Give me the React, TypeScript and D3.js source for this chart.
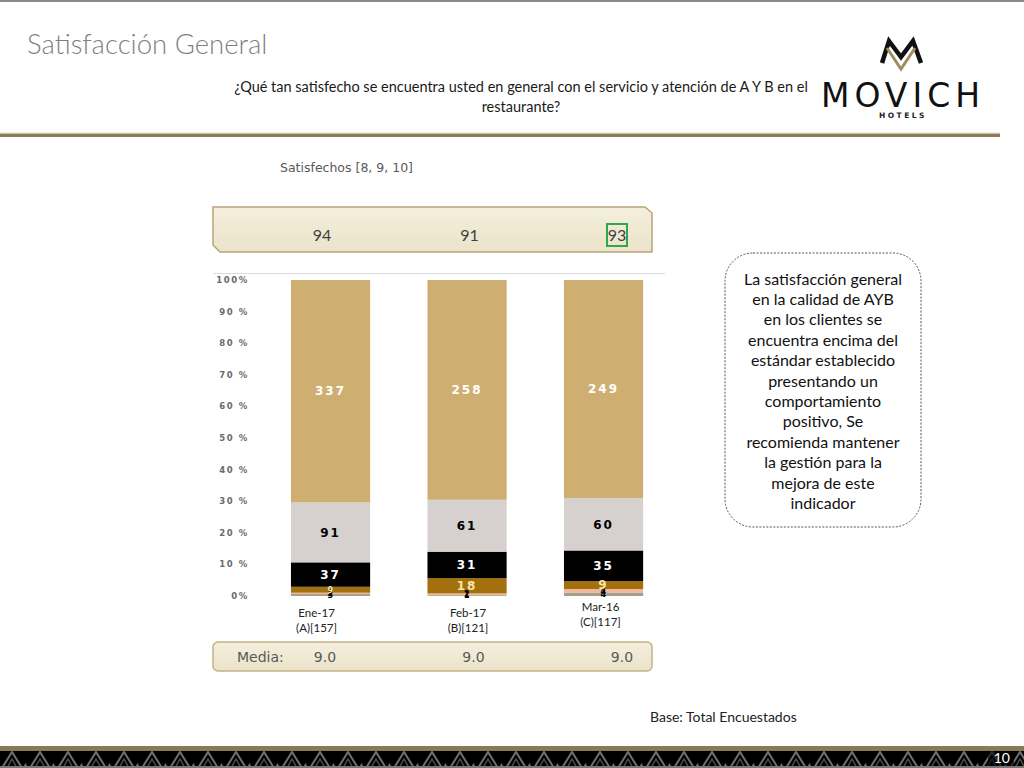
import React from "react";
import * as d3 from "d3";

// survey periods and base sizes
const categories = ["Ene-17", "Feb-17", "Mar-16"];
const bases = ["(A)[157]", "(B)[121]", "(C)[117]"];
const satisfied = [94, 91, 93];
const means = ["9.0", "9.0", "9.0"];

// stacked segments, bottom to top (counts)
const segGray = [3, 1, 4];
const segPeach = [2, 2, 4];
const segBrown = [9, 18, 9];
const segBlack = [37, 31, 35];
const segLight = [91, 61, 60];
const segTan = [337, 258, 249];

const yTicks = [0, 0.1, 0.2, 0.3, 0.4, 0.5, 0.6, 0.7, 0.8, 0.9, 1];

const comment = [
  "La satisfacción general",
  "en la calidad de AYB",
  "en los clientes se",
  "encuentra encima del",
  "estándar establecido",
  "presentando un",
  "comportamiento",
  "positivo, Se",
  "recomienda mantener",
  "la gestión para la",
  "mejora de este",
  "indicador",
];

const keys = ["gray", "peach", "brown", "black", "light", "tan"];
const fills: Record<string, string> = {
  gray: "#a99e8c",
  peach: "#efb99f",
  brown: "#a3700d",
  black: "#000000",
  light: "#d6d1cf",
  tan: "#cfae72",
};
const labelFill: Record<string, string> = {
  gray: "#000",
  peach: "#000",
  brown: "#f6e7a6",
  black: "#fff",
  light: "#000",
  tan: "#fff",
};

const rows = categories.map((c, i) => ({
  cat: c,
  gray: segGray[i],
  peach: segPeach[i],
  brown: segBrown[i],
  black: segBlack[i],
  light: segLight[i],
  tan: segTan[i],
}));

export default function App() {
  const x = d3.scaleBand().domain(categories).range([262.3, 671.8]).paddingInner(0.42).paddingOuter(0.21);
  const y = d3.scaleLinear().domain([0, 1]).range([596, 280]);
  const stack = d3.stack<any>().keys(keys).offset(d3.stackOffsetExpand);
  const series = stack(rows);
  const topPos = d3.scalePoint().domain(categories).range([322, 617]);
  const meanPos = d3.scalePoint().domain(categories).range([325, 622]);
  const tickFmt = (v: number) => (v === 0 || v === 1 ? `${Math.round(v * 100)}%` : `${Math.round(v * 100)} %`);
  const labelDx = [-14, 1, -3];
  const labelDy = [0, 0, -6];
  const pattern = d3.range(0, 1024, 28);

  return (
    <svg width={1024} height={768} style={{ position: "absolute", left: 0, top: 0, background: "#fff" }}>
      <defs>
        <linearGradient id="band" x1="0" y1="0" x2="0" y2="1">
          <stop offset="0" stopColor="#f4efdd" />
          <stop offset="1" stopColor="#ebe3ca" />
        </linearGradient>
      </defs>
      <rect x={0} y={0} width={1024} height={2} fill="#8a8a8a" />

      <text x={27} y={54} fontFamily="Lato" fontWeight={300} fontSize={27.5} fill="#7f7f7f">
        Satisfacción General
      </text>
      <g fontFamily="Lato" fontSize={14.5} fill="#1a1a1a" textAnchor="middle">
        <text x={521} y={92}>¿Qué tan satisfecho se encuentra usted en general con el servicio y atención de A Y B en el</text>
        <text x={521} y={112}>restaurante?</text>
      </g>

      {/* logo */}
      <g>
        <path d="M882,63 L889,41 L901,57 L913,41 L921,63" fill="none" stroke="#111" strokeWidth={4.5} strokeLinejoin="miter" />
        <path d="M887,48 L901,69 L915,48" fill="none" stroke="#a08d5f" strokeWidth={3} />
        <text x={903} y={107} textAnchor="middle" fontFamily="DejaVu Sans" fontSize={33} letterSpacing={5} fill="#111">
          MOVICH
        </text>
        <text x={903} y={118} textAnchor="middle" fontFamily="DejaVu Sans" fontWeight="bold" fontSize={7.5} letterSpacing={2.5} fill="#222">
          HOTELS
        </text>
      </g>

      <rect x={0} y={132.5} width={1000} height={1.2} fill="#e3d8bd" />
      <rect x={0} y={133.7} width={1000} height={3.3} fill="#8c7c58" />

      <text x={280} y={172} fontFamily="DejaVu Sans" fontSize={12.5} fill="#595959">
        Satisfechos [8, 9, 10]
      </text>

      {/* top banner */}
      <polygon points="213,207 645,207 652,213 652,252 220,252 213,245" fill="url(#band)" stroke="#b6a47b" strokeWidth={1.5} />
      {categories.map((c, i) => (
        <text key={c} x={topPos(c)} y={241} textAnchor="middle" fontFamily="Lato" fontSize={16} fill="#404040">
          {satisfied[i]}
        </text>
      ))}
      <rect x={topPos(categories[2])! - 10} y={224} width={20} height={22} fill="none" stroke="#2ea84a" strokeWidth={2} />

      {/* plot */}
      <line x1={213} x2={665} y1={273.5} y2={273.5} stroke="#dcdcdc" strokeWidth={1} />
      <g fontFamily="DejaVu Sans" fontWeight="bold" fontSize={8.5} letterSpacing={1.6} fill="#6a6a6a" textAnchor="end">
        {yTicks.map((t) => (
          <text key={t} x={249} y={y(t)} dy="0.35em">
            {tickFmt(t)}
          </text>
        ))}
      </g>
      {series.map((s) => (
        <g key={s.key} fill={fills[s.key]}>
          {s.map((d, i) => (
            <rect key={i} x={x(categories[i])} y={y(d[1])} width={x.bandwidth()} height={y(d[0]) - y(d[1])} />
          ))}
        </g>
      ))}
      {series.map((s) => (
        <g key={s.key + "l"} fontFamily="DejaVu Sans" fontWeight="bold" textAnchor="middle" fill={labelFill[s.key]}>
          {s.map((d, i) => {
            const v = (rows[i] as any)[s.key];
            if (!v) return null;
            const small = d[1] - d[0] < 0.02;
            return (
              <text
                key={i}
                x={x(categories[i])! + x.bandwidth() / 2}
                y={(y(d[0]) + y(d[1])) / 2}
                dy="0.36em"
                fontSize={small ? 8 : 12}
                letterSpacing={small ? 0.5 : 2}
              >
                {v}
              </text>
            );
          })}
        </g>
      ))}
      <g fontFamily="Lato" fontSize={11.5} fill="#222" textAnchor="middle">
        {categories.map((c, i) => (
          <g key={c} transform={`translate(${x(c)! + x.bandwidth() / 2 + labelDx[i]},${labelDy[i]})`}>
            <text y={617}>{c}</text>
            <text y={632}>{bases[i]}</text>
          </g>
        ))}
      </g>

      {/* mean banner */}
      <rect x={213} y={642} width={439} height={29} rx={5} fill="url(#band)" stroke="#c4b284" strokeWidth={1.5} />
      <text x={237} y={662} fontFamily="DejaVu Sans" fontSize={14} fill="#595959">
        Media:
      </text>
      {categories.map((c, i) => (
        <text key={c} x={meanPos(c)} y={662} textAnchor="middle" fontFamily="DejaVu Sans" fontSize={14} fill="#595959">
          {means[i]}
        </text>
      ))}

      {/* comment box */}
      <rect x={725} y={253} width={196} height={274} rx={28} fill="#fff" stroke="#555" strokeWidth={1} strokeDasharray="2,1.5" />
      <g fontFamily="Lato" fontSize={16} fill="#111" textAnchor="middle">
        {comment.map((line, i) => (
          <text key={i} x={823} y={284.5 + i * 20.4}>
            {line}
          </text>
        ))}
      </g>

      <text x={650} y={722} fontFamily="Lato" fontSize={14} fill="#222">
        Base: Total Encuestados
      </text>

      {/* footer */}
      <rect x={0} y={746} width={1024} height={5} fill="#8a7a56" />
      <rect x={0} y={751} width={1024} height={17} fill="#000" />
      {pattern.map((px) => (
        <g key={px}>
          <path d={`M${px + 2},768 L${px + 12},752 L${px + 22},768`} fill="none" stroke="#6f6f6f" strokeWidth={2} />
          <path d={`M${px + 7},768 L${px + 12},759 L${px + 17},768`} fill="none" stroke="#4d4d4d" strokeWidth={1.5} />
          <path d={`M${px + 23},768 L${px + 25.5},763 L${px + 28},768 Z`} fill="#777" />
        </g>
      ))}
      <rect x={0} y={766} width={1024} height={2} fill="#777" />
      <rect x={988} y={751} width={26} height={15} fill="#000" opacity={0.6} />
      <text x={1010} y={763} textAnchor="end" fontFamily="Lato" fontSize={14} fill="#fff">
        10
      </text>
    </svg>
  );
}
